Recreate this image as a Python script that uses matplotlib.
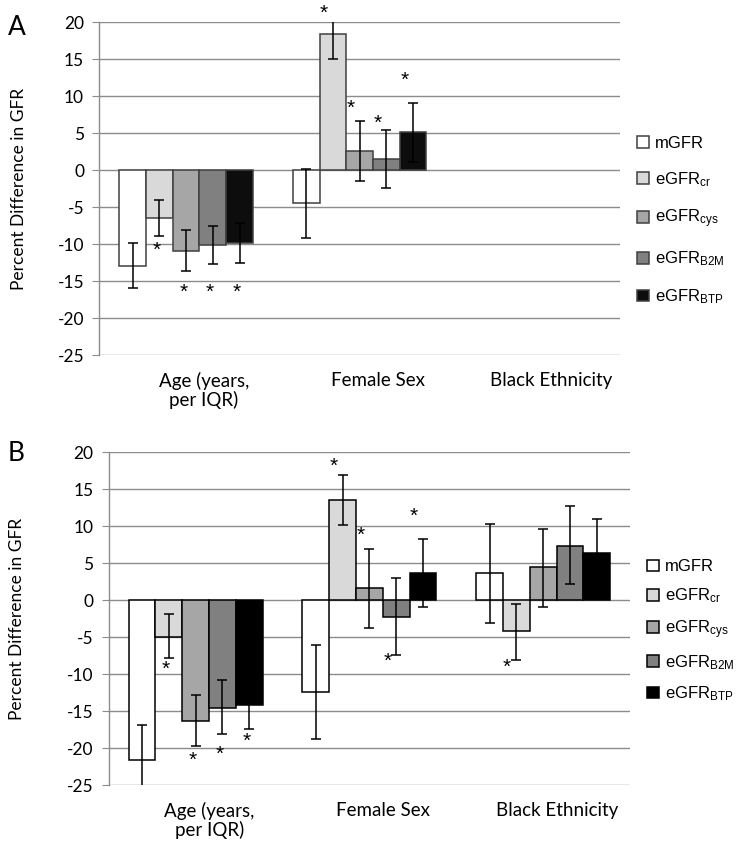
import numpy as np
import matplotlib as mpl
mpl.use("Agg")
import matplotlib.pyplot as plt
from matplotlib.transforms import ScaledTranslation

plt.rcParams.update({"font.family": ["Lato", "DejaVu Sans"], "mathtext.default": "regular",
                     "axes.unicode_minus": False})

# ---- data ----
CATS = ["Age (years,\nper IQR)", "Female Sex", "Black Ethnicity"]
SERIES = ["mGFR", "eGFR$_{cr}$", "eGFR$_{cys}$", "eGFR$_{B2M}$", "eGFR$_{BTP}$"]
NAN = np.nan

# panel A: values, lower / upper CI, asterisk heights
A_VAL = [[-13.0, -4.5, NAN], [-6.5, 18.4, NAN], [-10.9, 2.6, NAN], [-10.1, 1.5, NAN], [-9.9, 5.1, NAN]]
A_LO = [[-16.0, -9.2, NAN], [-8.9, 15.0, NAN], [-13.6, -1.5, NAN], [-12.7, -2.35, NAN], [-12.6, 1.1, NAN]]
A_HI = [[-9.9, 0.1, NAN], [-4.1, 21.8, NAN], [-8.1, 6.7, NAN], [-7.5, 5.4, NAN], [-7.2, 9.1, NAN]]
A_STAR = [[NAN, NAN, NAN], [-10.8, 21.2, NAN], [-16.5, 8.4, NAN], [-16.5, 6.35, NAN], [-16.5, 12.2, NAN]]

# panel B
B_VAL = [[-21.6, -12.4, 3.65], [-4.9, 13.55, -4.2], [-16.3, 1.6, 4.45], [-14.5, -2.2, 7.4], [-14.2, 3.7, 6.4]]
B_LO = [[-26.3, -18.8, -3.0], [-7.8, 10.2, -8.1], [-19.7, -3.7, -0.9], [-18.1, -7.4, 2.15], [-17.35, -0.9, 1.8]]
B_HI = [[-16.9, -6.05, 10.3], [-1.8, 17.0, -0.5], [-12.8, 6.9, 9.7], [-10.8, 3.0, 12.7], [-11.05, 8.3, 11.0]]
B_STAR = [[NAN, NAN, NAN], [-9.3, 18.05, -9.0], [-21.6, 8.8, NAN], [-20.8, -8.2, NAN], [-19.1, 11.3, NAN]]

COLS_A = ["white", "#d9d9d9", "#a6a6a6", "#808080", "#0d0d0d"]
COLS_B = ["white", "#d9d9d9", "#a6a6a6", "#808080", "black"]
GRID = "#8c8c8c"
W = 0.154
STAR_DX = [-0.1, -0.33, -0.35]   # asterisk shift per category, in bar widths


def panel(ax, val, lo, hi, star, cols, edge, lab_dx, leg_space, leg_y, ylab_x):
    x = np.arange(len(CATS))
    for i, name in enumerate(SERIES):
        v = np.array(val[i]); l = np.array(lo[i]); h = np.array(hi[i])
        xs = x + (i - 2) * W
        ax.bar(xs, v, W, color=cols[i], edgecolor=edge, linewidth=1.1, label=name, zorder=3)
        ok = ~np.isnan(v)
        ax.errorbar(xs[ok], v[ok], yerr=[v[ok] - l[ok], h[ok] - v[ok]], fmt="none",
                    ecolor="black", elinewidth=1.1, capsize=3.5, capthick=1.1, zorder=4)
        for j, s in enumerate(star[i]):
            if not np.isnan(s):
                ax.text(xs[j] + STAR_DX[j] * W, s, "*", ha="center", va="center",
                        fontsize=15, family="Liberation Sans", zorder=5)
    ax.set_xlim(-0.5, 2.5); ax.set_ylim(-25, 20)
    ax.set_yticks(np.arange(-25, 21, 5))
    ax.yaxis.grid(True, color=GRID, linewidth=1.0, zorder=0)
    ax.set_axisbelow(True)
    for s in ("top", "right", "bottom"):
        ax.spines[s].set_visible(False)
    ax.spines["left"].set_color(GRID); ax.spines["left"].set_linewidth(1.0)
    ax.tick_params(axis="y", length=5, color=GRID, labelsize=12.5, pad=6)
    ax.tick_params(axis="x", length=0, labelsize=13.5, pad=12)
    ax.set_xticks(x); ax.set_xticklabels(CATS, linespacing=1.05, va="top")
    off = ScaledTranslation(lab_dx / 100, 0, ax.figure.dpi_scale_trans)
    for t in ax.get_xticklabels():
        t.set_transform(t.get_transform() + off)
    ax.set_ylabel("Percent Difference in GFR", fontsize=12.5)
    ax.yaxis.set_label_coords(ylab_x, 0.5)
    ax.legend(loc="center left", bbox_to_anchor=(1.02, leg_y), frameon=False,
              prop={"family": "Liberation Sans", "size": 12}, handlelength=0.7,
              handleheight=0.7, handletextpad=0.35, labelspacing=leg_space,
              borderaxespad=0)


fig = plt.figure(figsize=(7.54, 8.51), dpi=100)
axA = fig.add_axes([0.1317, 0.5828, 0.6906, 0.391])
axB = fig.add_axes([0.1442, 0.0772, 0.6914, 0.3913])
panel(axA, A_VAL, A_LO, A_HI, A_STAR, COLS_A, "#404040", 18, 1.15, 0.403, -0.139)
panel(axB, B_VAL, B_LO, B_HI, B_STAR, COLS_B, "black", 14, 0.75, 0.463, -0.16)
fig.text(0.01, 0.982, "A", fontsize=19, va="top")
fig.text(0.01, 0.482, "B", fontsize=19, va="top")

fig.savefig("out.png", dpi=100)
